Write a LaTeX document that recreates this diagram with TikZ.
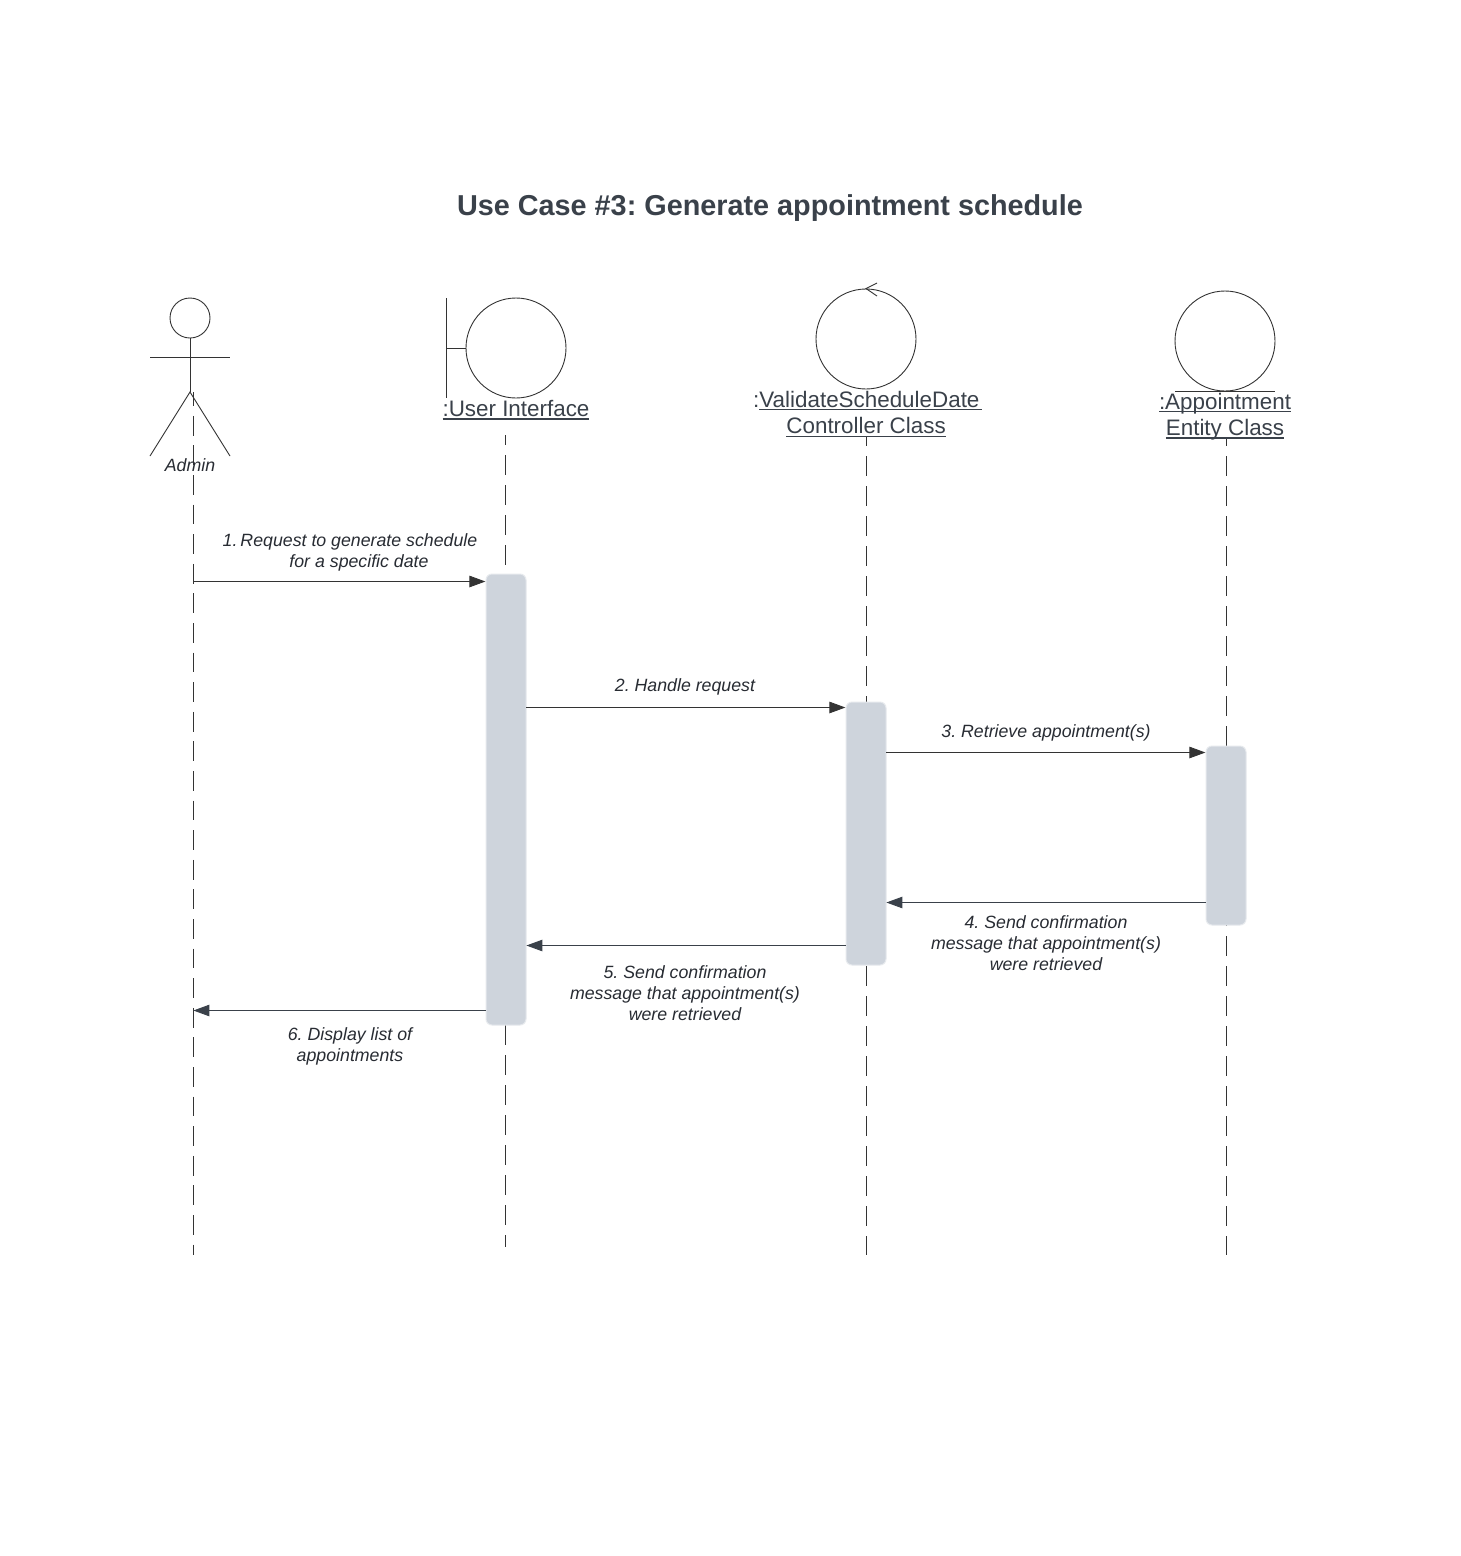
\documentclass[tikz,border=0pt]{standalone}
\usepackage{fontspec}
\usetikzlibrary{arrows.meta}
\setmainfont{Liberation Sans}
\frenchspacing
\definecolor{ink}{HTML}{333333}
\definecolor{head}{HTML}{3A414A}
\definecolor{msg}{HTML}{282C33}
\definecolor{act}{HTML}{CED4DC}
\definecolor{actedge}{HTML}{E6E9ED}
\newcommand{\ulx}[1]{\setbox0\hbox{#1}\rlap{\textcolor{head}{\rule[-3pt]{\wd0}{1.3pt}}}\box0 }
\tikzset{
  x=1pt,y=-1pt,
  shape line/.style={draw=ink,line width=0.9pt},
  lifeline/.style={draw=ink,line width=0.9pt,dash pattern=on 20pt off 10pt},
  activation/.style={draw=actedge,line width=1pt,fill=act,rounded corners=6pt,minimum width=40pt,inner sep=0pt,outer sep=0pt,anchor=north},
  fwd/.style={draw=ink,line width=0.9pt,shorten >=0.6pt,-{Triangle[length=16pt,width=11.5pt]}},
  back/.style={draw=head,line width=0.9pt,shorten >=-0.6pt,-{Triangle[length=16pt,width=11.5pt]}},
  headlabel/.style={font=\fontsize{22.4pt}{26.5pt}\selectfont,text=head,align=center,inner sep=0pt},
  msglabel/.style={font=\fontsize{17.75pt}{21pt}\selectfont\itshape,text=msg,align=center,inner sep=0pt},
}
\begin{document}
\begin{tikzpicture}
\useasboundingbox (0,0) rectangle (1460,1556);
\fill[white] (0,0) rectangle (1460,1556);
\node[font=\fontsize{28.8pt}{34pt}\selectfont\bfseries,text=head,inner sep=0pt] (title) at (770,208) {Use Case \#3: Generate appointment schedule};
% lifelines
\coordinate (l0s) at (193,392); \coordinate (l0e) at (193,1255);
\coordinate (l1s) at (505.5,435); \coordinate (l1e) at (505.5,1247);
\coordinate (l2s) at (866.5,437); \coordinate (l2e) at (866.5,1255);
\coordinate (l3s) at (1226.5,437); \coordinate (l3e) at (1226.5,1255);
\draw[lifeline,dash pattern=on 19.7pt off 9.9pt,dash phase=5.8pt] (l0s) -- (l0e);
\draw[lifeline,dash phase=10pt] (l1s) -- (l1e);
\draw[lifeline,dash phase=11pt] (l2s) -- (l2e);
\draw[lifeline,dash phase=11pt] (l3s) -- (l3e);
% actor
\node[shape line,circle,minimum size=40pt,inner sep=0pt] (ahead) at (190,318) {};
\coordinate (ahip) at (190,392);
\coordinate (aarml) at (150,357); \coordinate (aarmr) at (230,357);
\coordinate (alegl) at (150,456); \coordinate (alegr) at (230,456);
\draw[shape line] (ahead.south) -- (ahip);
\draw[shape line] (aarml) -- (aarmr);
\draw[shape line] (alegl) -- (ahip) -- (alegr);
\node[msglabel] (admin) at (190,465.5) {Admin};
% boundary
\node[shape line,circle,minimum size=100pt,inner sep=0pt] (ui) at (516,348) {};
\coordinate (uit) at (446.5,298); \coordinate (uib) at (446.5,398); \coordinate (uim) at (446.5,348);
\draw[shape line] (uit) -- (uib);
\draw[shape line] (uim) -- (ui.west);
\node[headlabel] (uil) at (516,410) {\ulx{:User Interface}};
% control
\node[shape line,circle,minimum size=100pt,inner sep=0pt] (ctl) at (866,339) {};
\coordinate (ctla) at (877,283); \coordinate (ctlb) at (877,296);
\draw[shape line] (ctla) -- (ctl.north) -- (ctlb);
\node[headlabel] (ctll) at (867.6,414) {:\ulx{ValidateScheduleDate\hspace*{2.5pt}}\\\ulx{Controller Class}\hspace*{3pt}};
% entity
\node[shape line,circle,minimum size=100pt,inner sep=0pt] (ent) at (1225,341) {};
\coordinate (entl) at (1175,391); \coordinate (entr) at (1275,391);
\draw[shape line] (entl) -- (entr);
\node[headlabel] (entll) at (1225,416.5) {\ulx{:Appointment}\\\ulx{Entity Class}};
% activations
\node[activation,minimum height=451pt] (a1) at (506,574) {};
\node[activation,minimum height=263pt] (a2) at (866,702) {};
\node[activation,minimum height=179pt] (a3) at (1226,746) {};
% message levels
\coordinate (m1) at (0,581.5); \coordinate (m2) at (0,707.5); \coordinate (m3) at (0,752.5);
\coordinate (m4) at (0,902.5); \coordinate (m5) at (0,945.5); \coordinate (m6) at (0,1010.5);
\draw[fwd] (l0s |- m1) -- (a1.west |- m1);
\draw[fwd] (a1.east |- m2) -- (a2.west |- m2);
\draw[fwd] (a2.east |- m3) -- (a3.west |- m3);
\draw[back] (a3.west |- m4) -- ([xshift=1pt]a2.east |- m4);
\draw[back] (a2.west |- m5) -- ([xshift=1pt]a1.east |- m5);
\draw[back] (a1.west |- m6) -- ([xshift=1pt]l0s |- m6);
% labels
\node[msglabel] (t1) at (350,552) {1.\hspace{3pt}Request to generate schedule\\\hspace*{18pt}for a specific date};
\node[msglabel] (t2) at (685,686.5) {2. Handle request};
\node[msglabel] (t3) at (1046,732.5) {3. Retrieve appointment(s)};
\node[msglabel] (t4) at (1046,943) {4. Send confirmation\\message that appointment(s)\\were retrieved};
\node[msglabel] (t5) at (685,993) {5. Send confirmation\\message that appointment(s)\\were retrieved};
\node[msglabel] (t6) at (350,1046) {6. Display list of\\appointments};
\end{tikzpicture}
\end{document}
